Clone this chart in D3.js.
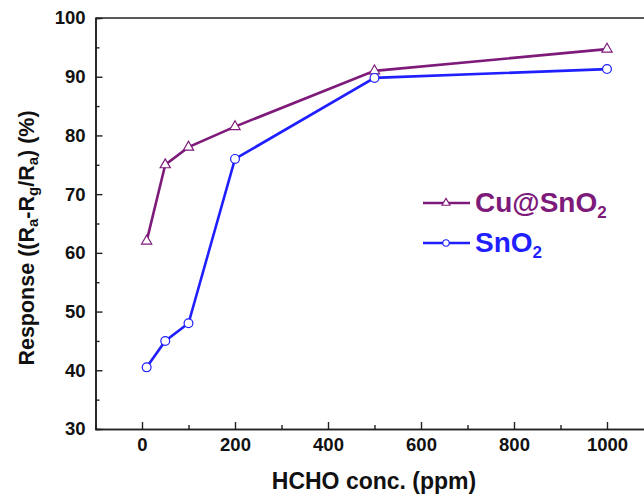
<!DOCTYPE html>
<html><head><meta charset="utf-8">
<script src="https://cdn.jsdelivr.net/npm/d3@7"></script>
<style>body{margin:0;background:#fff}svg{display:block}text{font-family:"Liberation Sans",Arial,sans-serif;font-weight:bold}</style>
</head><body>
<script>
const conc = [10, 50, 100, 200, 500, 1000];
const cuSnO2 = [62, 75, 78, 81.5, 91, 94.7];
const snO2 = [40.5, 45, 48, 76, 89.8, 91.3];
const xTicks = [0, 200, 400, 600, 800, 1000];
const yTicks = [30, 40, 50, 60, 70, 80, 90, 100];

const W = 644, H = 495;
const svg = d3.select("body").append("svg").attr("width", W).attr("height", H);
const x = d3.scaleLinear().domain([-100, 1100]).range([95.5, 653.5]);
const y = d3.scaleLinear().domain([30, 100]).range([429, 18]);
const purple = "#7d1a7a", blue = "#1f1fff", dark = "#222";

// axes
const gx = svg.append("g").attr("transform", `translate(0,${y(30)})`)
  .call(d3.axisBottom(x).tickValues(xTicks).tickFormat(d3.format("d")).tickSizeInner(-7).tickSizeOuter(0).tickPadding(9));
const gxm = svg.append("g").attr("transform", `translate(0,${y(30)})`)
  .call(d3.axisBottom(x).tickValues([100,300,500,700,900]).tickSize(-4).tickFormat(""));
const gy = svg.append("g").attr("transform", `translate(${x(-100)},0)`)
  .call(d3.axisLeft(y).tickValues(yTicks).tickSizeInner(-7).tickSizeOuter(0).tickPadding(10));
const gym = svg.append("g").attr("transform", `translate(${x(-100)},0)`)
  .call(d3.axisLeft(y).tickValues([35,45,55,65,75,85,95]).tickSize(-4).tickFormat(""));
[gx,gxm,gy,gym].forEach(g=>{g.select(".domain").attr("stroke",dark).attr("stroke-width",1.6);g.selectAll("line").attr("stroke",dark).attr("stroke-width",1.4);});
gx.selectAll("text").attr("font-size",18.5).attr("fill","#111");
gy.selectAll("text").attr("font-size",18.5).attr("fill","#111");
// top frame
svg.append("line").attr("x1",x(-100)).attr("x2",W).attr("y1",y(100)).attr("y2",y(100)).attr("stroke",dark).attr("stroke-width",1.6);

// lines
const line = d3.line().x(d=>x(d[0])).y(d=>y(d[1]));
const s1 = conc.map((c,i)=>[c,cuSnO2[i]]);
const s2 = conc.map((c,i)=>[c,snO2[i]]);
svg.append("path").datum(s1).attr("d",line).attr("fill","none").attr("stroke",purple).attr("stroke-width",2.6);
svg.append("path").datum(s2).attr("d",line).attr("fill","none").attr("stroke",blue).attr("stroke-width",2.6);
const tri = d3.symbol().type(d3.symbolTriangle).size(45);
svg.selectAll(".tri").data(s1).join("path").attr("transform",d=>`translate(${x(d[0])},${y(d[1])})`)
  .attr("d",tri).attr("fill","#fff").attr("stroke",purple).attr("stroke-width",1.2);
svg.selectAll(".circ").data(s2).join("circle").attr("cx",d=>x(d[0])).attr("cy",d=>y(d[1])).attr("r",4.4)
  .attr("fill","#fff").attr("stroke",blue).attr("stroke-width",1.2);

// legend
const leg = [{name:"Cu@SnO",sub:"2",color:purple,sym:"tri",y:203},{name:"SnO",sub:"2",color:blue,sym:"circ",y:243}];
leg.forEach(l=>{
  svg.append("line").attr("x1",423).attr("x2",470).attr("y1",l.y).attr("y2",l.y).attr("stroke",l.color).attr("stroke-width",2.4);
  if(l.sym==="tri") svg.append("path").attr("transform",`translate(446,${l.y})`).attr("d",d3.symbol().type(d3.symbolTriangle).size(28)).attr("fill","#fff").attr("stroke",l.color).attr("stroke-width",1.1);
  else svg.append("circle").attr("cx",446).attr("cy",l.y).attr("r",3.2).attr("fill","#fff").attr("stroke",l.color).attr("stroke-width",1.1);
  const t = svg.append("text").attr("x",475).attr("y",l.y+9).attr("font-size",28).attr("fill",l.color);
  t.append("tspan").text(l.name);
  t.append("tspan").attr("font-size",17).attr("dy",6).text(l.sub);
});

// axis titles
svg.append("text").attr("x",374).attr("y",489).attr("text-anchor","middle").attr("font-size",23).attr("fill","#111").text("HCHO conc. (ppm)");
const yt = svg.append("text").attr("transform","translate(34,238) rotate(-90)").attr("text-anchor","middle").attr("font-size",21.5).attr("fill","#111");
yt.append("tspan").text("Response ((R");
yt.append("tspan").attr("font-size",15).attr("dy",4).text("a");
yt.append("tspan").attr("dy",-4).text("-R");
yt.append("tspan").attr("font-size",15).attr("dy",4).text("g");
yt.append("tspan").attr("dy",-4).text("/R");
yt.append("tspan").attr("font-size",15).attr("dy",4).text("a");
yt.append("tspan").attr("dy",-4).text(") (%)");
</script>
</body></html>
